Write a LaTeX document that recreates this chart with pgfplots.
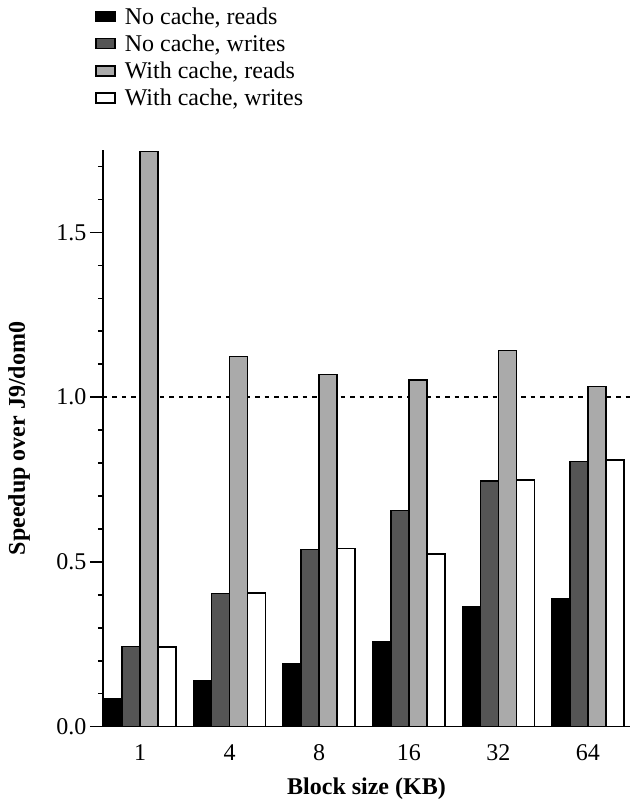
\documentclass[border=0pt]{standalone}
\usepackage{pgfplots}
\pgfplotsset{compat=1.18}
\usepackage{fontspec}
\setmainfont{Liberation Serif}
\definecolor{darkbar}{HTML}{555555}
\definecolor{lightbar}{HTML}{AAAAAA}
\begin{document}
\begin{tikzpicture}
\begin{axis}[
  name=ax,
  scale only axis,
  width=527pt, height=576.7pt,
  font=\rmfamily\fontsize{24}{28}\selectfont,
  /pgf/number format/assume math mode=true,
  ybar=0pt, bar width=18pt,
  xmin=-0.413, xmax=5.469,
  ymin=0, ymax=1.75,
  axis x line*=bottom, axis y line*=left,
  axis line style={line width=1.5pt, -},
  xtick=data, xticklabels={1,4,8,16,32,64},
  x tick style={draw=none},
  xticklabel shift=1pt,
  ytick={0,0.5,1,1.5},
  minor ytick={0.1,0.2,0.3,0.4,0.6,0.7,0.8,0.9,1.1,1.2,1.3,1.4,1.6,1.7},
  yticklabel style={/pgf/number format/.cd, fixed, fixed zerofill, precision=1},
  tick align=outside,
  y tick style={line width=1.5pt, black},
  major tick length=13pt, minor tick length=5pt,
  extra y ticks={1},
  extra y tick labels={},
  extra y tick style={grid=major, major tick length=0pt,
    major grid style={black, line width=1.5pt, dash pattern=on 4.5pt off 5pt}},
  xlabel={\textbf{Block size (KB)}},
  ylabel={\textbf{Speedup over J9/dom0}},
  xlabel style={at={(axis description cs:0.5,-0.108)}, anchor=center},
  ylabel style={at={(axis description cs:-0.159,0.5)}, anchor=center},
  legend cell align=left,
  legend style={draw=none, fill=none, inner sep=0pt, anchor=north west,
    at={(axis description cs:-0.015,1.251)}, row sep=5pt,
    font=\rmfamily\fontsize{24}{28}\selectfont,
    nodes={inner sep=2pt, anchor=west}},
  legend image code/.code={\draw[#1, line width=1.5pt] (0pt,-5pt) rectangle (19pt,5pt); \path (26pt,0pt);},
]
\addplot[fill=black, draw=black, line width=1.5pt] coordinates {(0,0.086) (1,0.139) (2,0.191) (3,0.259) (4,0.364) (5,0.387)};
\addplot[fill=darkbar, draw=black, line width=1.5pt] coordinates {(0,0.244) (1,0.404) (2,0.537) (3,0.656) (4,0.746) (5,0.805)};
\addplot[fill=lightbar, draw=black, line width=1.5pt] coordinates {(0,1.745) (1,1.123) (2,1.068) (3,1.052) (4,1.141) (5,1.032)};
\addplot[fill=white, draw=black, line width=1.5pt] coordinates {(0,0.242) (1,0.405) (2,0.540) (3,0.524) (4,0.749) (5,0.809)};
\legend{{No cache, reads}, {No cache, writes}, {With cache, reads}, {With cache, writes}}
\end{axis}
\pgfresetboundingbox
\path ([shift={(-103pt,-74.3pt)}]ax.south west) rectangle ([shift={(1pt,150pt)}]ax.north east);
\end{tikzpicture}
\end{document}
